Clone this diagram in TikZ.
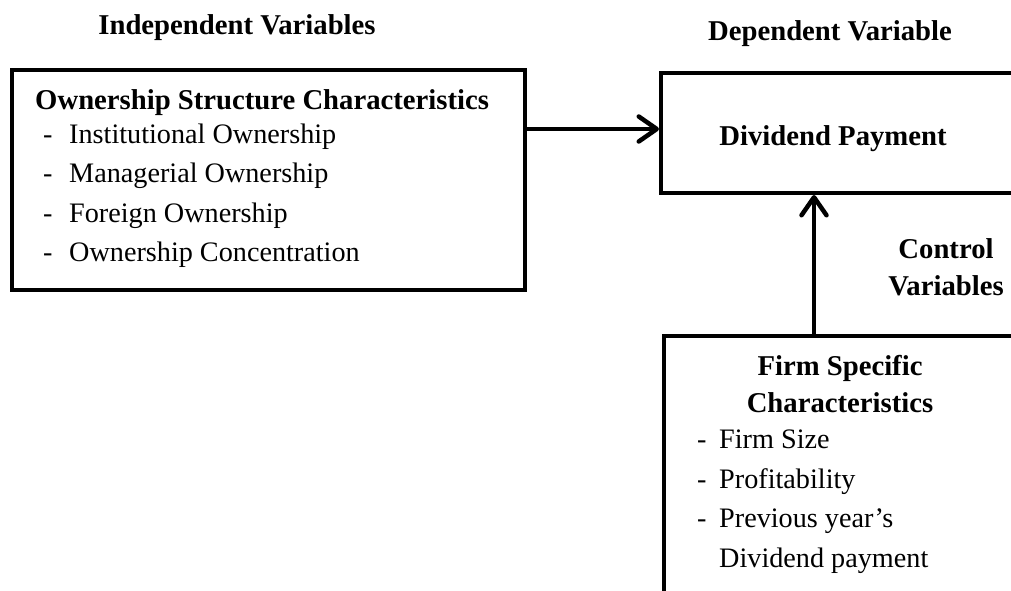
\documentclass[tikz,border=0pt]{standalone}
\usepackage{fontspec}
\setmainfont{Liberation Serif}
\usetikzlibrary{arrows.meta}
\begin{document}
\begin{tikzpicture}[x=1pt,y=-1pt,
  box/.style={draw=black, line width=4pt, fill=none, inner sep=0pt, anchor=north west},
  txt/.style={font=\fontsize{28.2}{34}\selectfont, inner sep=0pt, anchor=base west},
  hd/.style={font=\fontsize{28.7}{34}\selectfont\bfseries, inner sep=0pt, anchor=base},
  arr/.style={line width=4.5pt, -{Straight Barb[length=18pt,width=25pt,round]}}]
\useasboundingbox (0,0) rectangle (1011,591);
\clip (0,0) rectangle (1011,591);
% boxes
\node[box, minimum width=513pt, minimum height=220pt] (own) at (10,68) {};
\node[box, minimum width=380pt, minimum height=120pt] (dp) at (659,71) {};
\node[box, minimum width=380pt, minimum height=300pt] (firm) at (662,334) {};
% titles
\node[hd] (iv) at (237,35) {Independent Variables};
\node[hd] (dv) at (830,41) {Dependent Variable};
\node[hd] (cv1) at (946,258) {Control};
\node[hd] (cv2) at (946,295) {Variables};
% left box text
\node[hd, anchor=base west] (osc) at (35,110) {Ownership Structure Characteristics};
\node[txt] (d1) at (43,143) {-};
\node[txt] (i1) at (69,143) {Institutional Ownership};
\node[txt] (d2) at (43,182.5) {-};
\node[txt] (i2) at (69,182.5) {Managerial Ownership};
\node[txt] (d3) at (43,222) {-};
\node[txt] (i3) at (69,222) {Foreign Ownership};
\node[txt] (d4) at (43,261.5) {-};
\node[txt] (i4) at (69,261.5) {Ownership Concentration};
% right top
\node[hd] (dpt) at (833,146) {Dividend Payment};
% bottom box text
\node[hd] (fs1) at (840,375) {Firm Specific};
\node[hd] (fs2) at (840,412) {Characteristics};
\node[txt] (e1) at (697,448) {-};
\node[txt] (j1) at (719,448) {Firm Size};
\node[txt] (e2) at (697,488) {-};
\node[txt] (j2) at (719,488) {Profitability};
\node[txt] (e3) at (697,527) {-};
\node[txt] (j3) at (719,527) {Previous year’s};
\node[txt] (j4) at (719,567) {Dividend payment};
% arrows
\draw[arr] (own.east |- 0,129) -- (dp.west |- 0,129);
\draw[arr] ([xshift=152pt]firm.north west) -- ([xshift=152pt]firm.north west |- dp.south);
\end{tikzpicture}
\end{document}
